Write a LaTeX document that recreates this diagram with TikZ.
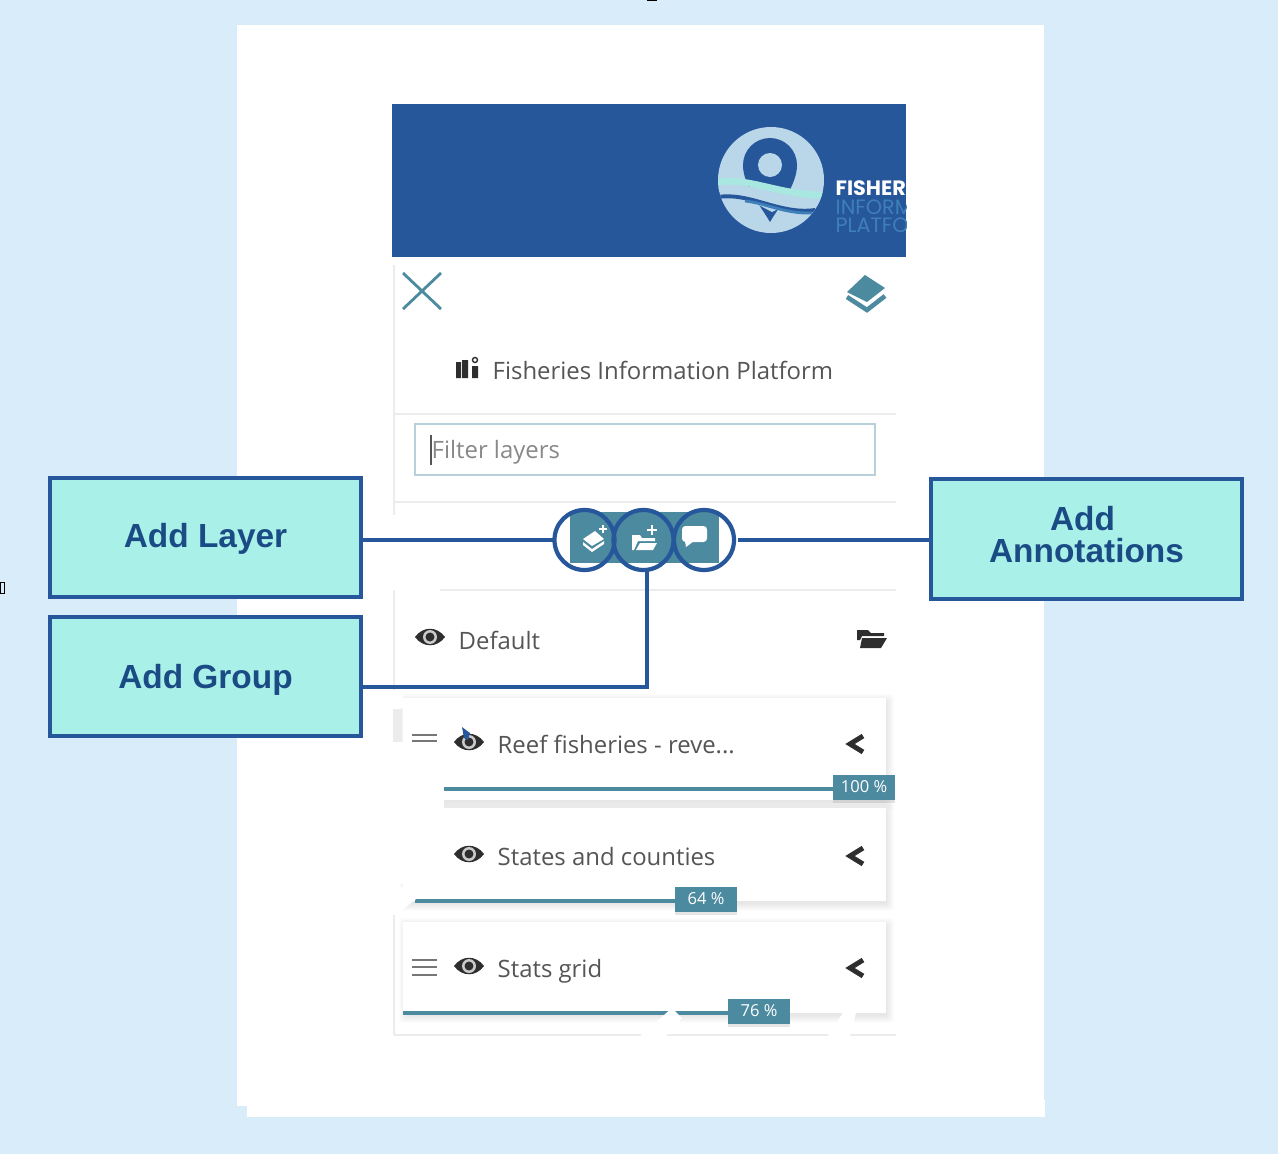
\documentclass[tikz,border=0pt]{standalone}
\usepackage{fontspec}
\setmainfont{Open Sans}
\newfontfamily\calloutfont{Liberation Sans}
\newfontfamily\logofont{Poppins}
\usepackage{tikz}
\usetikzlibrary{positioning,arrows.meta,shadows}
\definecolor{pagebg}{HTML}{D8ECFA}
\definecolor{navy}{HTML}{27579B}
\definecolor{callout}{HTML}{A9F1E8}
\definecolor{callouttext}{HTML}{1B4B85}
\definecolor{teal}{HTML}{4C8AA0}
\definecolor{rulegray}{HTML}{ECECEC}
\definecolor{uitext}{HTML}{555555}
\definecolor{uidark}{HTML}{2E2E2E}
\definecolor{logolight}{HTML}{BAD7EA}
\definecolor{logomint}{HTML}{A8E8E0}
\definecolor{logoblue}{HTML}{3E7FB9}
\tikzset{
  calloutbox/.style={draw=navy,line width=1.15pt,fill=callout,minimum width=3.11cm,minimum height=1.19cm,
    outer sep=0pt,align=center,text=callouttext,font=\calloutfont\fontsize{9.5}{9.7}\selectfont\bfseries},
  ring/.style={circle,draw=navy,line width=1.2pt,minimum size=0.6cm,inner sep=0pt,outer sep=0pt},
  link/.style={draw=navy,line width=1.2pt},
  uilabel/.style={anchor=west,inner sep=0pt,text=uitext,font=\fontsize{6.8}{8}\selectfont},
  pct/.style={fill=teal,text=white,minimum width=0.61cm,minimum height=0.25cm,inner sep=0pt,font=\fontsize{4.7}{5}\selectfont,
    drop shadow={opacity=.2,shadow xshift=0cm,shadow yshift=-0.03cm}},
  slider/.style={draw=teal,line width=1pt},
  panelrule/.style={draw=rulegray,line width=0.6pt},
  eyeicon/.pic={
    \fill[uidark] (-15,0) .. controls (-7,-11) and (7,-11) .. (15,0) .. controls (7,11) and (-7,11) .. (-15,0) -- cycle;
    \fill[white!75!uidark] (0,0) circle (7);
    \fill[uidark] (0,0) circle (4.5);
  },
  chevron/.pic={
    \draw[uidark,line width=1.4pt] (7,-8) -- (-6,0) -- (7,8);
  },
}
\newcommand{\layercard}[4]{%
  \foreach \s in {1,...,8}
    \fill[black,opacity=.011,rounded corners=1pt] ({#1+4-\s},{#2+4-\s}) rectangle ({#3+\s},{#4+\s+2});
  \fill[white] (#1,#2) rectangle (#3,#4);
}
\begin{document}
\begin{tikzpicture}[x=0.01cm,y=-0.01cm]
\useasboundingbox (0,0) rectangle (1278,1154);
\fill[pagebg] (0,0) rectangle (1278,1154);
\draw[black,line width=0.4pt] (647,0.5) -- (657,0.5);
\draw[black,line width=0.2pt] (0.5,582) rectangle (4,593);
\fill[white] (237,25) rectangle (1044,1106);
\fill[white] (247,1100) rectangle (1045,1117);
% header
\fill[navy] (392,104) rectangle (906,257);
\fill[logolight] (771,180) circle (53);
\begin{scope}
\clip (771,180) circle (53);
\fill[navy] (743,165) arc (180:360:27) .. controls (797,185) and (780,205) .. (770,222) .. controls (760,205) and (743,185) .. (743,165) -- cycle;
\fill[logolight] (770,165) circle (12);
\fill[logolight] (715,188) .. controls (745,180) and (780,195) .. (825,198) -- (825,206) -- (790,203) -- (772,212) -- (755,203) .. controls (740,192) and (730,190) .. (715,192) -- cycle;
\draw[logomint,line width=1.9pt] (715,183) .. controls (745,175) and (780,196) .. (825,195);
\draw[navy,line width=1.1pt] (718,197) .. controls (750,192) and (780,215) .. (815,210);
\draw[logoblue,line width=0.8pt] (745,201) .. controls (765,203) and (785,214) .. (812,213);
\end{scope}
\begin{scope}
\clip (392,104) rectangle (906,257);
\node[anchor=base west,inner sep=0pt,text=white,font=\logofont\fontsize{5.9}{6}\selectfont\bfseries] (logoa) at (835,195) {FISHERIES};
\node[anchor=base west,inner sep=0pt,text=logoblue,font=\logofont\fontsize{5.9}{6}\selectfont] (logob) at (835,214) {INFORMATION};
\node[anchor=base west,inner sep=0pt,text=logoblue,font=\logofont\fontsize{5.9}{6}\selectfont] (logoc) at (835,232) {PLATFORM};
\end{scope}
% panel rules
\draw[panelrule] (394,265) -- (394,515);
\draw[panelrule] (394,590) -- (394,690);
\draw[panelrule] (394,915) -- (394,1035);
\draw[panelrule] (394,414) -- (896,414);
\draw[panelrule] (394,502) -- (896,502);
\draw[panelrule] (440,590) -- (896,590);
\draw[panelrule] (394,1035) -- (896,1035);
% top icons
\draw[teal,line width=0.8pt] (403,273) -- (441,309) (441,273) -- (403,309);
\fill[teal] (847,292) -- (865,275) -- (885,288) -- (867,302) -- cycle;
\draw[teal,line width=1.3pt] (847,297) -- (867,310) -- (885,296);
\fill[uidark] (456,362) rectangle (461,378) (462,360) rectangle (468,378) (472,366) rectangle (478,378);
\draw[uidark,line width=0.4pt] (475,360) circle (2.5);
\node[uilabel] (title) at (492,370) {Fisheries Information Platform};
% filter box
\draw[draw=teal!40!white,line width=0.8pt,fill=white] (415,424) rectangle (875,475);
\draw[uitext,line width=0.5pt] (431,435) -- (431,465);
\node[uilabel,text=uitext!70!white] (filter) at (431,452) {Filter layers};
% default row
\pic at (430,637) {eyeicon};
\node[uilabel] (default) at (458,640) {Default};
\fill[uidark] (857,630) -- (868,630) -- (871,633) -- (884,633) -- (884,636) -- (862,636) -- (860,640) -- (857,640) -- cycle;
\fill[uidark] (862,638) -- (887,638) -- (881,648) -- (860,648) -- cycle;
% layer cards
\layercard{403}{698}{886}{800}
\layercard{403}{808}{886}{901}
\layercard{403}{922}{886}{1013}
\draw[slider] (444,789) -- (834,789);
\draw[slider] (415,901) -- (676,901);
\draw[slider] (403,1013) -- (728,1013);
\node[pct] (pcta) at (864,787) {100 \%};
\node[pct] (pctb) at (706,899) {64 \%};
\node[pct] (pctc) at (759,1011) {76 \%};
% white patches
\fill[white] (393,742) rectangle (444,806);
\fill[white] (392,806) rectangle (444,884);
\fill[white] (392,708) -- (403,708) -- (403,690) -- (392,690) -- cycle;
\fill[rulegray] (393,709) rectangle (402,742);
\fill[white] (392,912) -- (392,890) -- (424,880) -- (434,886) -- (412,902) -- (400,912) -- cycle;
\fill[white] (640,1036) -- (672,1008) -- (682,1018) -- (666,1036) -- cycle;
\fill[white] (828,1036) -- (846,1008) -- (858,1005) -- (850,1036) -- cycle;
% rows
\draw[uitext!80!white,line width=0.6pt] (412,735) -- (437,735) (412,741) -- (437,741);
\draw[uitext!80!white,line width=0.6pt] (412,960) -- (437,960) (412,967) -- (437,967) (412,975) -- (437,975);
\pic at (469,742) {eyeicon};
\pic at (469,854) {eyeicon};
\pic at (469,966) {eyeicon};
\fill[navy] (462,727) -- (470,733) -- (468,740) -- (464,738) -- cycle;
\node[uilabel] (layera) at (497,745) {Reef fisheries - reve...};
\node[uilabel] (layerb) at (497,857) {States and counties};
\node[uilabel] (layerc) at (497,971) {Stats grid};
\pic at (856,744) {chevron};
\pic at (856,856) {chevron};
\pic at (856,968) {chevron};
% button strip
\fill[teal] (570,512) rectangle (719,563);
\fill[white] (583,539) -- (595,531) -- (604,539) -- (592,546) -- cycle;
\fill[white] (583,542) -- (592,549) -- (604,541) -- (604,544) -- (592,552) -- (583,545) -- cycle;
\draw[white,line width=0.4pt] (599,529) -- (607,529) (603,525) -- (603,533);
\fill[white] (632,535) -- (640,535) -- (642,538) -- (655,538) -- (655,541) -- (638,541) -- (634,550) -- (632,550) -- cycle;
\fill[white] (640,543) -- (657,543) -- (653,550) -- (636,550) -- cycle;
\draw[white,line width=0.5pt] (647,530) -- (657,530) (652,525) -- (652,535);
\fill[white,rounded corners=1pt] (682,526) rectangle (707,542);
\fill[white] (685,541) -- (694,541) -- (686,547) -- cycle;
% callouts and rings
\node[ring] (ringlayer) at (584.5,540) {};
\node[ring] (ringgroup) at (643.5,540) {};
\node[ring] (ringnote) at (704,540) {};
\node[calloutbox,text depth=0.05cm] (addlayer) at (205.5,537.5) {Add Layer};
\node[calloutbox,text depth=0pt] (addgroup) at (205.5,676.5) {Add Group};
\node[calloutbox,text depth=0.1cm] (addnote) at (1086.5,539) {Add\hspace*{0.08cm}\\[-0.6pt]Annotations};
\coordinate (elbow) at (647,687);
\draw[link] (addlayer.east |- ringlayer) -- (ringlayer);
\draw[link,shorten <=0.04cm] (ringnote) ++(30,0) -- (addnote.west |- ringnote);
\draw[link] (elbow |- ringgroup.south) -- (elbow) -- (elbow -| addgroup.east);
\end{tikzpicture}
\end{document}
